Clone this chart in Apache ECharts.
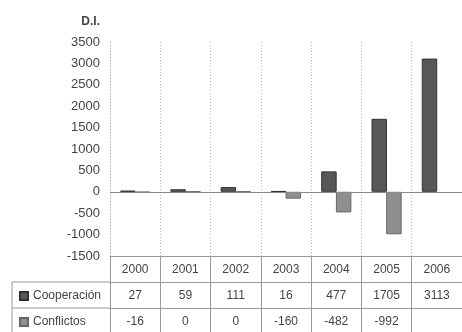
<!DOCTYPE html>
<html>
<head>
<meta charset="utf-8">
<script src="https://cdn.jsdelivr.net/npm/echarts@6/dist/echarts.min.js"></script>
<style>
  html, body { margin: 0; padding: 0; background: #fff; }
  #chart { width: 462px; height: 332px; }
</style>
</head>
<body>
<div id="chart"></div>
<script>
var years = ['2000', '2001', '2002', '2003', '2004', '2005', '2006'];
var cooperacion = [27, 59, 111, 16, 477, 1705, 3113];
var conflictos = [-16, 0, 0, -160, -482, -992, null];
var yTicks = { min: -1500, max: 3500, step: 500 };

var chartDom = document.getElementById('chart');
var myChart = echarts.init(chartDom);

var font = 'Liberation Sans, Arial, sans-serif';
var textColor = '#444';
var tableLine = { color: '#999', width: 1 };
var dotted = { color: '#b8b8b8', type: [1, 2], width: 1 };

// filas de la tabla: un eje x por fila, desplazado hacia abajo
function tableAxis(values, offset) {
    return {
        type: 'category',
        data: years,
        position: 'bottom',
        offset: offset,
        axisLine: { show: true, onZero: false, lineStyle: tableLine },
        axisTick: { show: true, length: 26, lineStyle: tableLine },
        axisLabel: {
            interval: 0,
            margin: 8,
            color: textColor,
            fontSize: 12,
            fontFamily: font,
            formatter: function (v, i) {
                return values[i] == null ? '' : String(values[i]);
            }
        },
        splitLine: { show: false }
    };
}

// una leyenda por fila de la tabla
function rowLegend(name, top) {
    return {
        orient: 'vertical',
        left: 14,
        top: top,
        icon: 'rect',
        itemWidth: 8,
        itemHeight: 8,
        itemGap: 4,
        selectedMode: false,
        textStyle: { color: textColor, fontSize: 12, fontFamily: font },
        data: [name]
    };
}

var option = {
    backgroundColor: '#fff',
    animation: false,
    textStyle: { fontFamily: font },
    grid: { left: 110, right: -8, top: 42, bottom: 76 },
    legend: [
        rowLegend('Cooperación', 285),
        rowLegend('Conflictos', 311)
    ],
    xAxis: [
        {
            type: 'category',
            data: years,
            position: 'bottom',
            axisLine: { show: true, onZero: false, lineStyle: tableLine },
            axisTick: { show: true, length: 26, lineStyle: tableLine },
            axisLabel: { interval: 0, margin: 8, color: textColor, fontSize: 12, fontFamily: font },
            splitLine: { show: true, lineStyle: dotted }
        },
        tableAxis(cooperacion, 26),
        tableAxis(conflictos, 52)
    ],
    yAxis: {
        type: 'value',
        min: yTicks.min,
        max: yTicks.max,
        interval: yTicks.step,
        name: 'D.I.',
        nameLocation: 'end',
        nameGap: 14,
        nameTextStyle: { align: 'right', padding: [0, 10, 0, 0], fontWeight: 'bold', color: textColor, fontSize: 12, fontFamily: font },
        axisLine: { show: true, lineStyle: dotted },
        axisTick: { show: false },
        splitLine: { show: false },
        axisLabel: {
            margin: 10,
            color: textColor,
            fontSize: 13,
            fontFamily: font,
            formatter: function (v) { return String(v); }
        }
    },
    series: [
        {
            name: 'Cooperación',
            type: 'bar',
            data: cooperacion,
            barGap: '-5%',
            barCategoryGap: '40%',
            itemStyle: { color: '#575757', borderColor: '#333', borderWidth: 1 },
            markLine: {
                silent: true,
                symbol: 'none',
                label: { show: false },
                lineStyle: { color: '#8a8a8a', type: 'solid', width: 1 },
                data: [{ yAxis: 0 }]
            }
        },
        {
            name: 'Conflictos',
            type: 'bar',
            data: conflictos,
            itemStyle: { color: '#8f8f8f', borderColor: '#666', borderWidth: 1 }
        }
    ],
    // bordes de la columna de leyenda de la tabla
    graphic: [
        { type: 'line', shape: { x1: 12, y1: 282, x2: 110, y2: 282 }, style: { stroke: '#999', lineWidth: 1 } },
        { type: 'line', shape: { x1: 12, y1: 308, x2: 110, y2: 308 }, style: { stroke: '#999', lineWidth: 1 } },
        { type: 'line', shape: { x1: 12, y1: 282, x2: 12, y2: 334 }, style: { stroke: '#999', lineWidth: 1 } }
    ]
};

myChart.setOption(option);

window.addEventListener('resize', function () {
    myChart.resize();
});
</script>
</body>
</html>
